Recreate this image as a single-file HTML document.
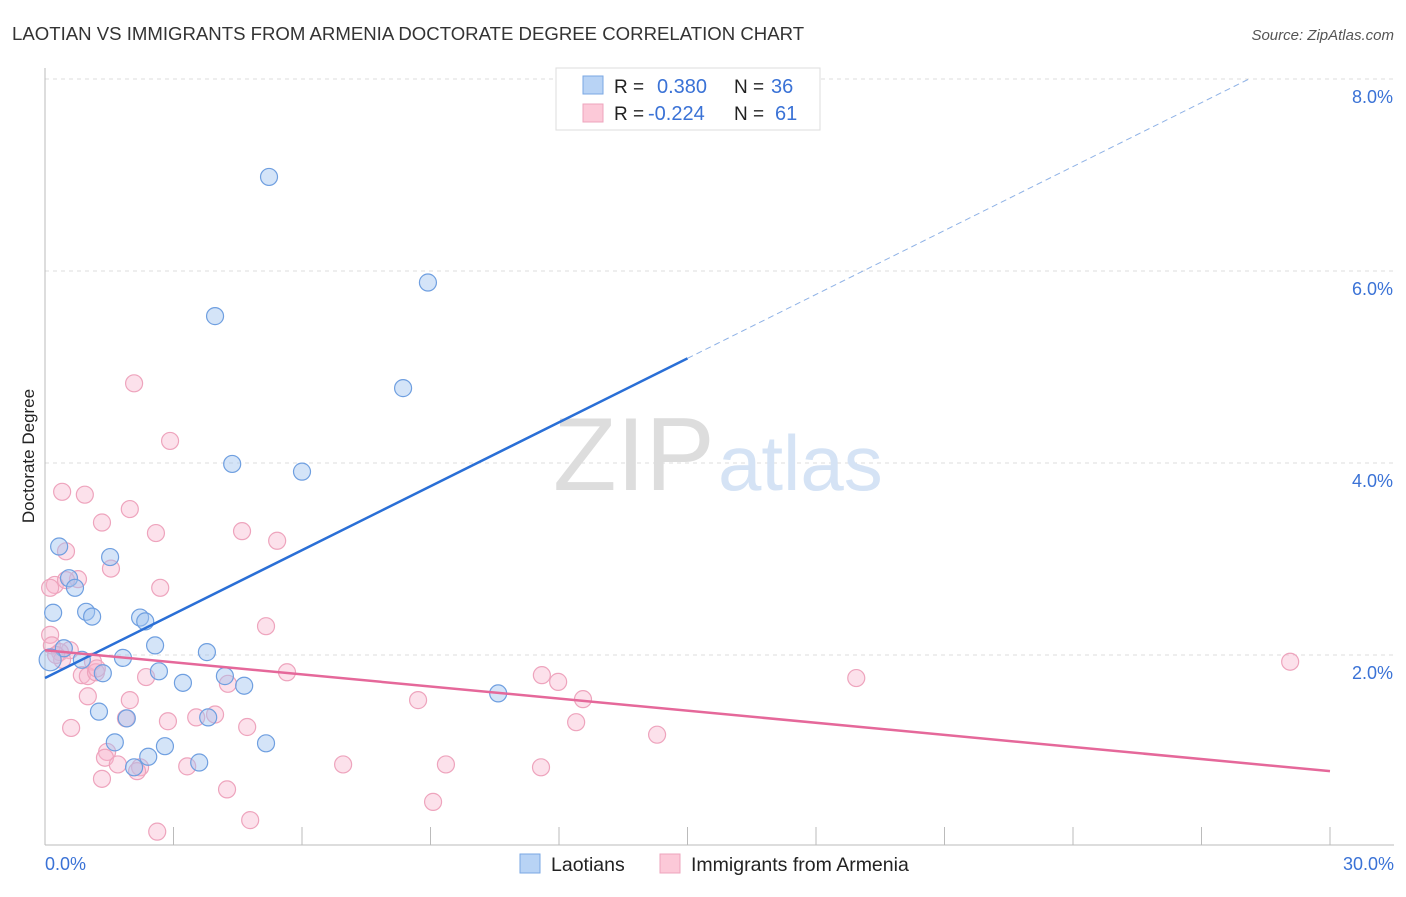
<!DOCTYPE html>
<html><head><meta charset="utf-8"><style>
body{margin:0;background:#fff;font-family:"Liberation Sans",sans-serif;}
svg text{font-family:"Liberation Sans",sans-serif;}
</style></head><body>
<svg width="1406" height="892" viewBox="0 0 1406 892">
<text x="12" y="40" font-size="18.6" fill="#333">LAOTIAN VS IMMIGRANTS FROM ARMENIA DOCTORATE DEGREE CORRELATION CHART</text>
<text x="1394" y="40" font-size="15" fill="#555" font-style="italic" text-anchor="end">Source: ZipAtlas.com</text>
<g id="grid"></g>
<g>
<text x="553" y="490" font-size="104" fill="#ddd" font-family="Liberation Serif">ZIP</text>
<text x="718" y="490" font-size="78" fill="#d5e3f5">atlas</text>
</g>
<text transform="translate(34,456) rotate(-90)" font-size="17" fill="#222" text-anchor="middle">Doctorate Degree</text>
<g id="pts"></g>
<g id="lines"></g>
<g>
<rect x="556" y="68" width="264" height="62" fill="#fff" stroke="#ddd"/>
<rect x="583" y="76" width="20" height="18" fill="#b8d3f5" stroke="#7aa7e3"/>
<rect x="583" y="104" width="20" height="18" fill="#fcc9d8" stroke="#eea4bd"/>
<text x="614" y="93" font-size="19" fill="#222">R =</text>
<text x="657" y="93" font-size="20" fill="#3a72d6">0.380</text>
<text x="734" y="93" font-size="19" fill="#222">N =</text>
<text x="771" y="93" font-size="20" fill="#3a72d6">36</text>
<text x="614" y="120" font-size="19" fill="#222">R =</text>
<text x="648" y="120" font-size="20" fill="#3a72d6">-0.224</text>
<text x="734" y="120" font-size="19" fill="#222">N =</text>
<text x="775" y="120" font-size="20" fill="#3a72d6">61</text>
</g>
<g>
<rect x="520" y="854" width="20" height="19" fill="#b8d3f5" stroke="#7aa7e3"/>
<text x="551" y="871" font-size="19.5" fill="#222">Laotians</text>
<rect x="660" y="854" width="20" height="19" fill="#fcc9d8" stroke="#eea4bd"/>
<text x="691" y="871" font-size="19.5" fill="#222">Immigrants from Armenia</text>
</g>
</svg>
<script>
const blueX=[5.23,8.94,3.97,8.36,4.37,6.00,0.33,1.52,0.56,0.70,0.19,0.96,1.10,2.22,2.34,2.57,0.44,3.78,0.86,1.82,2.66,1.35,3.22,4.20,4.65,10.58,1.26,1.91,3.81,1.63,2.80,2.41,5.16,3.60,2.08,0.12];
const blueY=[6.98,5.88,5.53,4.78,3.99,3.91,3.13,3.02,2.80,2.70,2.44,2.45,2.40,2.39,2.35,2.10,2.07,2.03,1.95,1.97,1.83,1.81,1.71,1.78,1.68,1.60,1.41,1.34,1.35,1.09,1.05,0.94,1.08,0.88,0.83,1.95];
const pinkX=[2.08,2.92,0.40,0.93,1.33,1.98,2.59,4.60,5.42,0.49,1.54,0.77,0.23,2.69,0.49,0.12,5.16,0.12,0.16,0.58,0.35,1.12,0.86,1.00,1.19,5.65,2.36,4.27,11.60,11.98,18.94,29.07,1.00,1.98,8.71,12.56,1.89,2.87,3.53,3.97,4.72,12.40,0.61,14.29,1.45,1.40,1.70,2.22,2.15,3.32,6.96,9.36,11.58,1.33,4.25,9.06,4.79,2.62,0.40,0.26,1.21];
const pinkY=[4.83,4.23,3.70,3.67,3.38,3.52,3.27,3.29,3.19,3.08,2.90,2.79,2.73,2.70,2.78,2.70,2.30,2.21,2.10,2.05,2.03,1.93,1.79,1.78,1.82,1.82,1.77,1.70,1.79,1.72,1.76,1.93,1.57,1.53,1.53,1.54,1.34,1.31,1.35,1.38,1.25,1.30,1.24,1.17,0.99,0.93,0.86,0.83,0.79,0.84,0.86,0.86,0.83,0.71,0.60,0.47,0.28,0.16,1.95,2.00,1.86];
const yTicks=[2,4,6,8];
const xTickLabels=["0.0%","30.0%"];
const blueLine=[1.76,0.222]; // intercept, slope
const pinkLine=[2.05,-0.042];
const NS="http://www.w3.org/2000/svg";
const X0=45,X1=1330,Y0=847,YS=96;
function sx(v){return X0+(X1-X0)*v/30;}
function sy(v){return Y0-v*YS;}
function mk(t,a,p){const e=document.createElementNS(NS,t);for(const k in a)e.setAttribute(k,a[k]);p.appendChild(e);return e;}
const g=document.getElementById('grid');
yTicks.forEach(v=>{
 const l=mk('line',{x1:45,x2:1394,y1:sy(v),y2:sy(v),stroke:'#ddd','stroke-dasharray':'4,4'},g);
 
 
 const t=mk('text',{x:1393,y:sy(v)+24,'font-size':18,fill:'#3a72d6','text-anchor':'end'},g);
 t.textContent=v.toFixed(1)+'%';
 
 
});
mk('line',{x1:45,x2:45,y1:68,y2:845,stroke:'#bbb'},g);
mk('line',{x1:45,x2:1394,y1:845,y2:845,stroke:'#bbb'},g);
for(let i=1;i<=10;i++){const x=sx(i*3);mk('line',{x1:x,x2:x,y1:827,y2:845,stroke:'#bbb'},g);}
const tl=mk('text',{x:45,y:870,'font-size':18,fill:'#3a72d6'},g);tl.textContent=xTickLabels[0];


const tr=mk('text',{x:1394,y:870,'font-size':18,fill:'#3a72d6','text-anchor':'end'},g);tr.textContent=xTickLabels[1];


const p=document.getElementById('pts');
pinkX.forEach((x,i)=>{const c=mk('circle',{cx:sx(x),cy:sy(pinkY[i]),r:8.5,fill:'rgba(248,180,205,0.4)',stroke:'#eea4bd','stroke-width':1.2},p);
 
 });
blueX.forEach((x,i)=>{const c=mk('circle',{cx:sx(x),cy:sy(blueY[i]),r:i==35?11:8.5,fill:'rgba(160,195,240,0.45)',stroke:'#6f9fe0','stroke-width':1.2},p);
 
 });
const L=document.getElementById('lines');
const b1=mk('line',{x1:sx(0),y1:sy(blueLine[0]),x2:sx(15),y2:sy(blueLine[0]+15*blueLine[1]),stroke:'#2a6fd6','stroke-width':2.5},L);


const xe=(8.0-blueLine[0])/blueLine[1];
const b2=mk('line',{x1:sx(15),y1:sy(blueLine[0]+15*blueLine[1]),x2:sx(xe),y2:sy(8.0),stroke:'#8fb2e6','stroke-width':1,'stroke-dasharray':'6,4'},L);


const pl=mk('line',{x1:sx(0),y1:sy(pinkLine[0]),x2:sx(30),y2:sy(pinkLine[0]+30*pinkLine[1]),stroke:'#e5689a','stroke-width':2.5},L);


</script>
</body></html>
